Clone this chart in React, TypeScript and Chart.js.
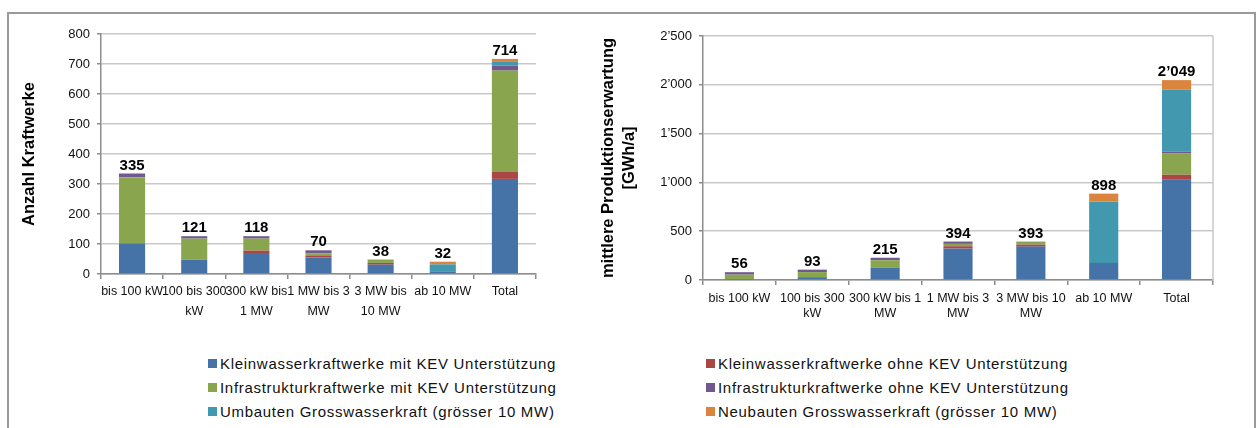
import React, { useEffect, useRef } from "react";
import { Chart, registerables } from "chart.js";
Chart.register(...registerables);

// ---------- data ----------
const seriesNames = [
  "Kleinwasserkraftwerke mit KEV Unterstützung",
  "Kleinwasserkraftwerke ohne KEV Unterstützung",
  "Infrastrukturkraftwerke mit KEV Unterstützung",
  "Infrastrukturkraftwerke ohne KEV Unterstützung",
  "Umbauten Grosswasserkraft (grösser 10 MW)",
  "Neubauten Grosswasserkraft (grösser 10 MW)",
];
const seriesColors = ["#4572A7", "#AA4643", "#89A54E", "#71588F", "#4198AF", "#DB843D"];

// left chart: Anzahl Kraftwerke
const countCategories = [
  "bis 100 kW",
  ["100 bis 300", "kW"],
  ["300 kW bis", "1 MW"],
  ["1 MW bis 3", "MW"],
  ["3 MW bis", "10 MW"],
  "ab 10 MW",
  "Total",
];
const countKleinMit = [102, 48, 70, 55, 31, 9, 317];
const countKleinOhne = [0, 0, 8, 7, 6, 0, 23];
const countInfraMit = [220, 70, 40, 7, 10, 0, 338];
const countInfraOhne = [13, 8, 8, 10, 1, 0, 17];
const countUmbauten = [0, 0, 0, 0, 0, 23, 14];
const countNeubauten = [0, 0, 0, 0, 0, 9, 8];
const countTotals = [335, 121, 118, 70, 38, 32, 714];
const countAxisTitle = "Anzahl Kraftwerke";
const countMax = 800;
const countStep = 100;

// right chart: mittlere Produktionserwartung [GWh/a]
const prodCategories = [
  "bis 100 kW",
  ["100 bis 300", "kW"],
  ["300 kW bis 1", "MW"],
  ["1 MW bis 3", "MW"],
  ["3 MW bis 10", "MW"],
  "ab 10 MW",
  "Total",
];
const prodKleinMit = [3, 29, 128, 322, 342, 175, 1027];
const prodKleinOhne = [0, 0, 0, 24, 21, 0, 52];
const prodInfraMit = [52, 52, 75, 24, 31, 0, 216];
const prodInfraOhne = [25, 25, 25, 24, 0, 0, 23];
const prodUmbauten = [0, 0, 0, 0, 0, 630, 634];
const prodNeubauten = [0, 0, 0, 0, 0, 80, 96];
const prodTotals = [56, 93, 215, 394, 393, 898, 2049];
const prodAxisTitle = ["mittlere Produktionserwartung", "[GWh/a]"];
const prodMax = 2500;
const prodStep = 500;

// ---------- helpers ----------
const FONT = "'Liberation Sans', Arial, sans-serif";
const AXIS = "#8c8c8c";
const GRID = "#c9c9c9";
const TEXT = "#111111";

const fmt = (n: number) => String(n).replace(/\B(?=(\d{3})+(?!\d))/g, "\u2019");

const totalsPlugin = {
  id: "totals",
  afterDatasetsDraw(chart: any, _args: any, opts: any) {
    const { ctx } = chart;
    const yScale = chart.scales.y;
    const meta0 = chart.getDatasetMeta(0);
    ctx.save();
    ctx.font = `bold 15px ${FONT}`;
    ctx.fillStyle = "#000";
    ctx.textAlign = "center";
    ctx.textBaseline = "alphabetic";
    (opts.labels || []).forEach((lab: number, i: number) => {
      let sum = 0;
      chart.data.datasets.forEach((ds: any) => (sum += ds.data[i]));
      const x = meta0.data[i].x;
      const y = yScale.getPixelForValue(sum);
      ctx.fillText(fmt(lab), x, y - 4);
    });
    ctx.restore();
  },
};

const frameRightPlugin = {
  id: "frameRight",
  afterDraw(chart: any, _args: any, opts: any) {
    if (!opts.show) return;
    const { ctx, chartArea } = chart;
    ctx.save();
    ctx.strokeStyle = GRID;
    ctx.lineWidth = 1.5;
    ctx.beginPath();
    ctx.moveTo(chartArea.right, chartArea.top);
    ctx.lineTo(chartArea.right, chartArea.bottom);
    ctx.stroke();
    ctx.restore();
  },
};

type Cfg = {
  categories: any[];
  series: number[][];
  totals: number[];
  title: string | string[];
  max: number;
  step: number;
  barPct: number;
  yWidth: number;
  xHeight: number;
  padTop: number;
  padRight: number;
  titlePad: number;
  titleLineHeight: number;
  xLineHeight: number;
  xPadding: number;
  frameRight: boolean;
};

function makeConfig(c: Cfg): any {
  return {
    type: "bar",
    data: {
      labels: c.categories,
      datasets: c.series.map((d, i) => ({
        label: seriesNames[i],
        data: d,
        backgroundColor: seriesColors[i],
        borderWidth: 0,
        categoryPercentage: 1,
        barPercentage: c.barPct,
      })),
    },
    plugins: [totalsPlugin, frameRightPlugin],
    options: {
      responsive: false,
      animation: false,
      layout: { padding: { top: c.padTop, right: c.padRight, left: 0, bottom: 0 } },
      plugins: {
        legend: { display: false },
        tooltip: { enabled: false },
        totals: { labels: c.totals },
        frameRight: { show: c.frameRight },
      },
      scales: {
        x: {
          stacked: true,
          offset: true,
          afterFit: (s: any) => {
            s.height = c.xHeight;
          },
          grid: {
            display: true,
            offset: true,
            drawOnChartArea: false,
            drawTicks: true,
            tickLength: 5,
            color: AXIS,
            lineWidth: 1.5,
          },
          border: { display: true, color: AXIS, width: 1.5 },
          ticks: {
            autoSkip: false,
            maxRotation: 0,
            minRotation: 0,
            padding: c.xPadding,
            color: TEXT,
            font: { family: FONT, size: 12.5, lineHeight: c.xLineHeight },
          },
        },
        y: {
          stacked: true,
          min: 0,
          max: c.max,
          afterFit: (s: any) => {
            s.width = c.yWidth;
          },
          grid: {
            color: GRID,
            lineWidth: 1.5,
            tickColor: AXIS,
            tickLength: 4,
            drawTicks: true,
          },
          border: { display: true, color: AXIS, width: 1.5 },
          ticks: {
            stepSize: c.step,
            padding: 7,
            color: TEXT,
            font: { family: FONT, size: 13 },
            callback: (v: any) => fmt(Number(v)),
          },
          title: {
            display: true,
            text: c.title,
            color: "#000",
            padding: { top: c.titlePad, bottom: 0 },
            font: { family: FONT, size: 16.5, weight: "bold", lineHeight: c.titleLineHeight },
          },
        },
      },
    },
  };
}

function ChartBox(props: { cfg: Cfg; left: number; top: number; width: number; height: number }) {
  const ref = useRef<HTMLCanvasElement | null>(null);
  useEffect(() => {
    if (!ref.current) return;
    const chart = new Chart(ref.current, makeConfig(props.cfg));
    return () => chart.destroy();
  }, []);
  return (
    <canvas
      ref={ref}
      width={props.width}
      height={props.height}
      style={{
        position: "absolute",
        left: props.left,
        top: props.top,
        width: props.width,
        height: props.height,
      }}
    />
  );
}

const leftCfg: Cfg = {
  categories: countCategories,
  series: [countKleinMit, countKleinOhne, countInfraMit, countInfraOhne, countUmbauten, countNeubauten],
  totals: countTotals,
  title: countAxisTitle,
  max: countMax,
  step: countStep,
  barPct: 0.42,
  yWidth: 93,
  xHeight: 50,
  padTop: 21,
  padRight: 12,
  titlePad: 12,
  titleLineHeight: 1.2,
  xLineHeight: 1.6,
  xPadding: 3,
  frameRight: false,
};

const rightCfg: Cfg = {
  categories: prodCategories,
  series: [prodKleinMit, prodKleinOhne, prodInfraMit, prodInfraOhne, prodUmbauten, prodNeubauten],
  totals: prodTotals,
  title: prodAxisTitle,
  max: prodMax,
  step: prodStep,
  barPct: 0.4,
  yWidth: 123,
  xHeight: 53,
  padTop: 23,
  padRight: 17,
  titlePad: 18.5,
  titleLineHeight: 1.25,
  xLineHeight: 1.2,
  xPadding: 6.5,
  frameRight: true,
};

const legendRows = [
  [0, 1],
  [2, 3],
  [4, 5],
];

export default function App() {
  return (
    <div
      style={{
        position: "fixed",
        left: 0,
        top: 0,
        width: 1258,
        height: 428,
        background: "#fff",
        overflow: "hidden",
        fontFamily: FONT,
      }}
    >
      <div
        style={{
          position: "absolute",
          left: 7,
          top: 12,
          width: 1245,
          height: 430,
          border: "2px solid #9a9a9a",
        }}
      />
      <ChartBox cfg={leftCfg} left={8} top={13} width={540} height={311} />
      <ChartBox cfg={rightCfg} left={580} top={13} width={650} height={320} />
      {legendRows.map((row, r) =>
        row.map((si, c) => (
          <div
            key={`${r}-${c}`}
            style={{
              position: "absolute",
              left: c === 0 ? 208 : 706,
              top: 363 + r * 24 - 10,
              height: 20,
              display: "flex",
              alignItems: "center",
              whiteSpace: "nowrap",
              fontSize: 15,
              letterSpacing: "0.7px",
              color: TEXT,
            }}
          >
            <span
              style={{
                display: "inline-block",
                width: 9,
                height: 9,
                background: seriesColors[si],
                marginRight: 3,
              }}
            />
            <span>{seriesNames[si]}</span>
          </div>
        ))
      )}
    </div>
  );
}
